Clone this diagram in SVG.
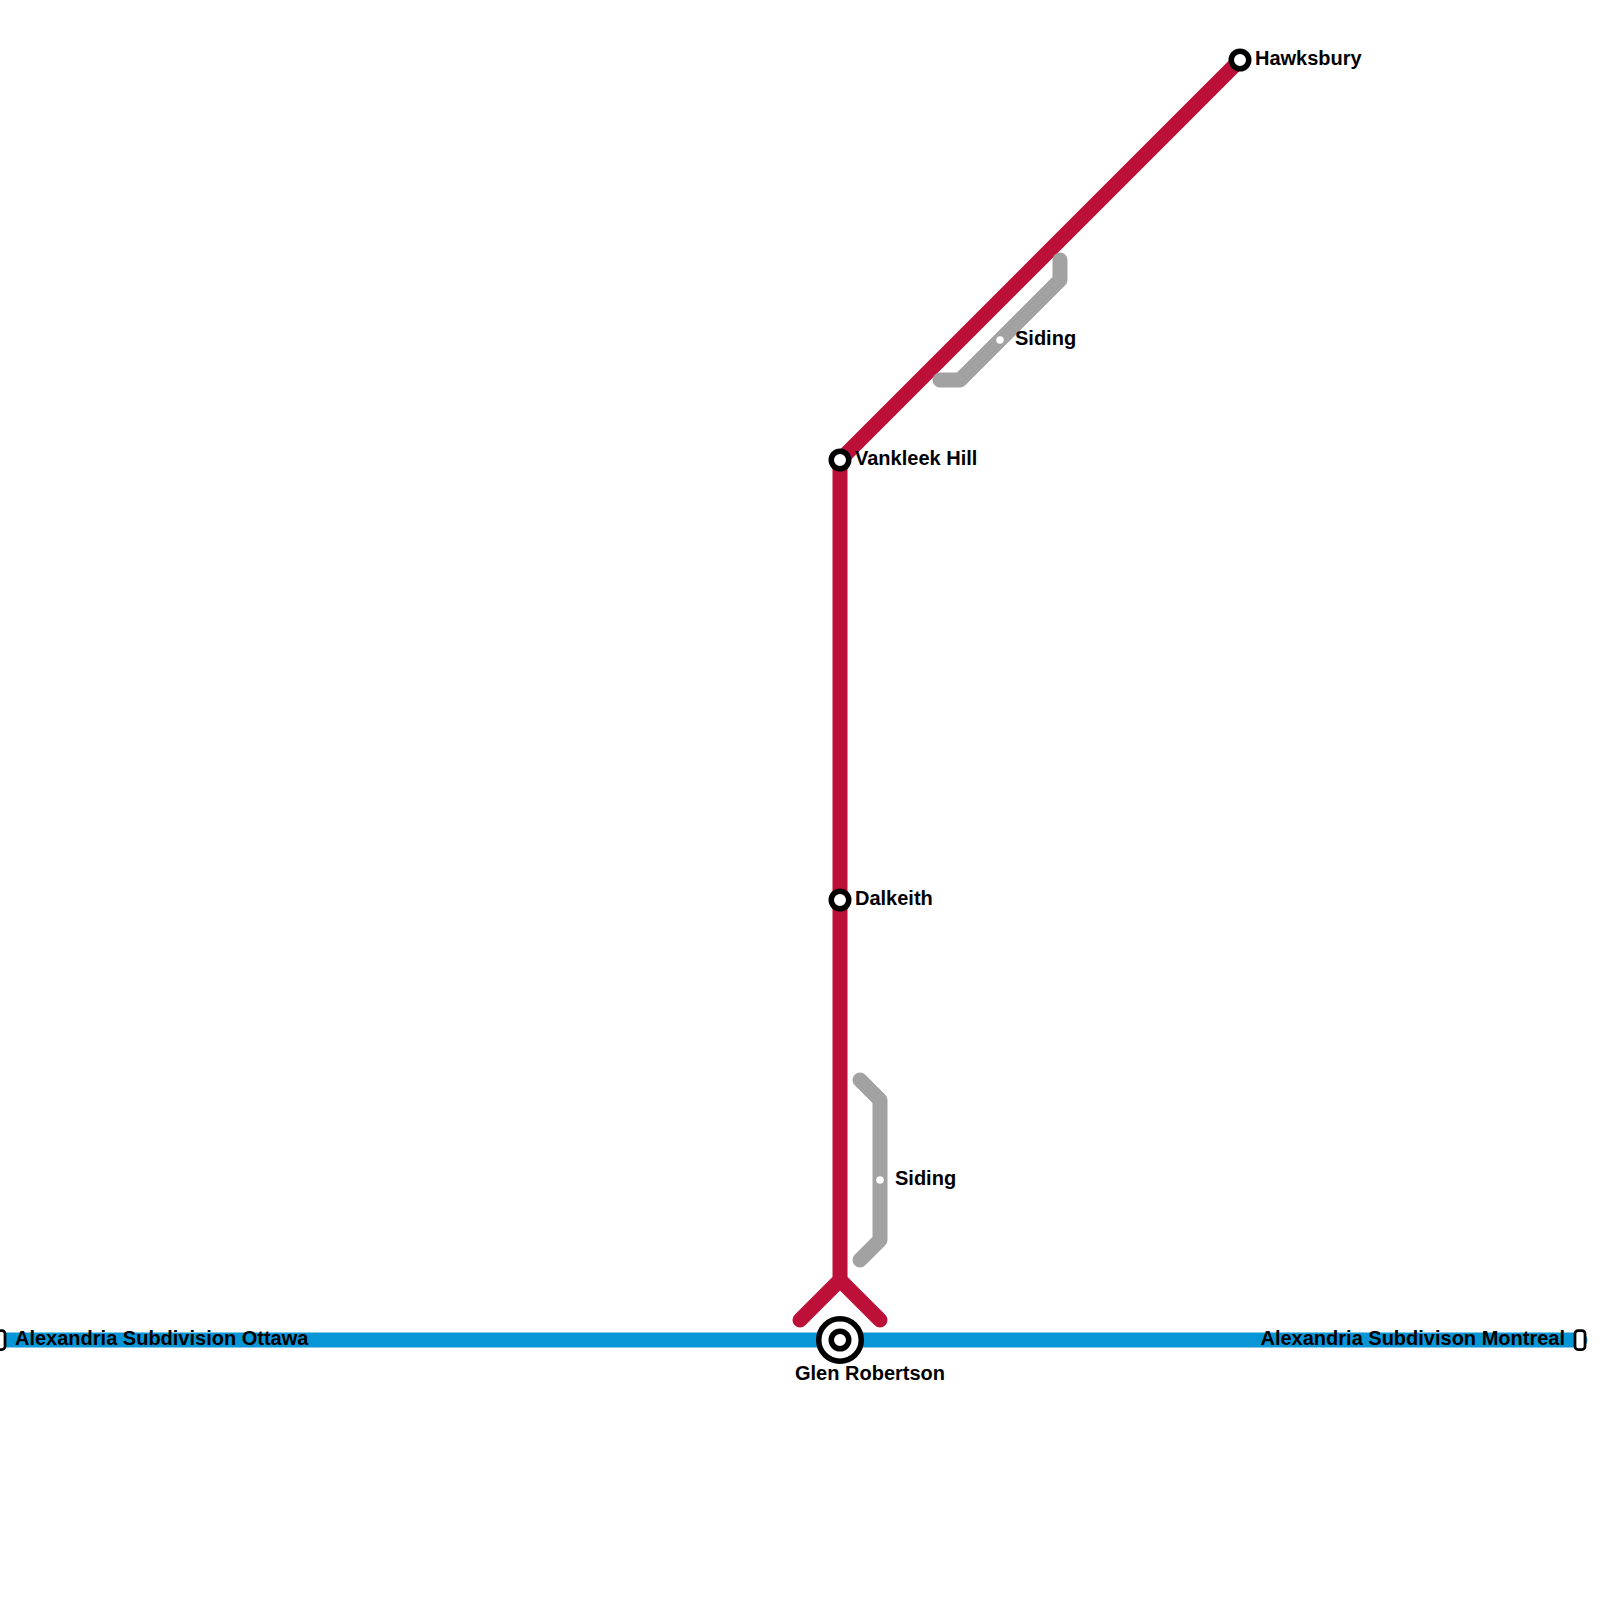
<svg xmlns="http://www.w3.org/2000/svg" width="1600" height="1600" viewBox="0 0 1600 1600">
<style>
.l{fill:none;stroke-width:15;stroke-linecap:round;stroke-linejoin:round}
.b{stroke:#0896d7}.r{stroke:#bd1038}.g{stroke:#a2a2a2}
.st{fill:#fff;stroke:#000;stroke-width:5.5}
.bx{fill:#fff;stroke:#000;stroke-width:2.75}
.t{font-family:"Liberation Sans",Arial,sans-serif;font-weight:700;font-size:20px;fill:#000}
</style>
<rect width="1600" height="1600" fill="#fff"/>
<g id="connectors">
<path class="l b" d="M0 1340H1580"/>
<path class="l r" d="M1240 60L840 460V1280L800 1320M840 1280L880 1320"/>
<path class="l g" d="M940 380H960L1060 280V260"/>
<path class="l g" d="M860 1080L880 1100V1240L860 1260"/>
</g>
<g id="ottawa"><rect class="bx" x="-5" y="1330.5" width="10" height="19" rx="3"/><text class="t" x="15" y="1345">Alexandria Subdivision Ottawa</text></g>
<g id="montreal"><rect class="bx" x="1575" y="1330.5" width="10" height="19" rx="3"/><text class="t" x="1565" y="1345" text-anchor="end">Alexandria Subdivison Montreal</text></g>
<g id="hawksbury"><circle class="st" cx="1240" cy="60" r="8.75"/><text class="t" x="1255" y="65">Hawksbury</text></g>
<g id="vankleek"><circle class="st" cx="840" cy="460" r="8.75"/><text class="t" x="855" y="465">Vankleek Hill</text></g>
<g id="dalkeith"><circle class="st" cx="840" cy="900" r="8.75"/><text class="t" x="855" y="905">Dalkeith</text></g>
<g id="siding1"><circle cx="1000" cy="340" r="3.75" fill="#fff"/><text class="t" x="1015" y="345">Siding</text></g>
<g id="siding2"><circle cx="880" cy="1180" r="3.75" fill="#fff"/><text class="t" x="895" y="1185">Siding</text></g>
<g id="glen"><circle class="st" cx="840" cy="1340" r="21.25"/><circle class="st" cx="840" cy="1340" r="8.75"/><text class="t" x="795" y="1380">Glen Robertson</text></g>
</svg>
